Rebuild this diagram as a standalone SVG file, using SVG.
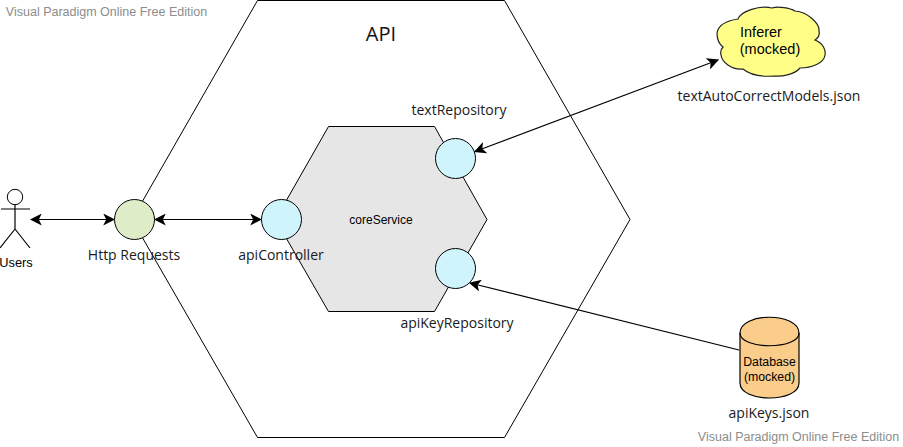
<svg xmlns="http://www.w3.org/2000/svg" width="903" height="447" viewBox="0 0 903 447">
<style>
text{font-family:"Liberation Sans",Arial,sans-serif;fill:#000;text-anchor:middle}
.s{font-family:"Open Sans","DejaVu Sans",sans-serif;font-size:14px;fill:#1a1a1a}
.w{font-size:12.5px;fill:#8c8c8c}
.c{fill:#cff4fb;stroke:#000;stroke-width:1}
.k{fill:none;stroke:#000;stroke-width:1.2}
.l{stroke:#000;stroke-width:1.2;fill:none;marker-start:url(#a);marker-end:url(#a)}
</style>
<defs><marker id="a" viewBox="0 0 10 10" refX="9" refY="5" markerWidth="12" markerHeight="12" markerUnits="userSpaceOnUse" orient="auto-start-reverse"><path d="M0 0L10 5L0 10L2.5 5Z" fill="#000"/></marker></defs>
<rect width="903" height="447" fill="#fff"/>
<g id="api"><path d="M257.500 0.500H504.500L630 219.500L504.500 437.500H257.500L132 219.500Z" fill="#fff" stroke="#000"/><text x="381" y="41" style="font-family:'Open Sans','DejaVu Sans',sans-serif;font-size:20px;fill:#111">API</text></g>
<g id="coreService"><path d="M328.500 126.500H434.500L487 219.500L434.500 311.500H328.500L275.500 219.500Z" fill="#e6e6e6" stroke="#000"/><text x="381" y="224" font-size="12">coreService</text></g>
<g id="connectors">
<path class="l" d="M31 219.500H114"/><path class="l" d="M155 219.500H261"/>
<path class="l" d="M475 151.500L718 60"/>
<path d="M739 350L470 283" class="k" marker-end="url(#a)"/>
</g>
<g id="users"><circle cx="15" cy="197" r="7.700" fill="#fff" stroke="#000"/><path d="M15 205V229M1 209H30M15 229L0 248M15 229L30 248" class="k"/><text x="16" y="267" font-size="12.800">Users</text></g>
<g id="httpRequests"><circle cx="134.500" cy="219.500" r="20" fill="#deedc8" stroke="#000"/><text x="134" y="260" class="s">Http Requests</text></g>
<g id="apiController"><circle class="c" cx="281.500" cy="219.500" r="20"/><text x="281" y="260" class="s">apiController</text></g>
<g id="textRepository"><circle class="c" cx="455.500" cy="158.500" r="20"/><text x="459" y="115" class="s">textRepository</text></g>
<g id="apiKeyRepository"><circle class="c" cx="455.500" cy="268.500" r="20"/><text x="457" y="328" class="s">apiKeyRepository</text></g>
<g id="inferer"><path d="M717 33C718 26 725 21 738 19C741 11 760 5 772 8C778 6 790 8 795 11C808 12 820 24 819 31C820 35 818 38 815 40C823 43 826 50 825 55C824 63 812 68 800 68C795 74 783 77 773 76C760 77 749 74 743 69C731 70 722 62 721 55C720 51 721 49 723 47C719 44 717 38 717 33Z" fill="#ffff88" stroke="#222" stroke-width="1.200"/><text x="761" y="37" font-size="14.500">Inferer</text><text x="770" y="54" font-size="14.500">(mocked)</text></g>
<text x="769" y="101" class="s">textAutoCorrectModels.json</text>
<g id="database"><path d="M740 333C740 312 799 312 799 333V383C799 403 740 403 740 383Z" fill="#fbcd8b" stroke="#000" stroke-width="1.200"/><path d="M740 333C740 350 799 350 799 333" class="k"/><text x="769.500" y="366" font-size="12.300">Database</text><text x="769.500" y="381" font-size="12.300">(mocked)</text></g>
<text x="769" y="418" class="s">apiKeys.json</text>
<text x="106.500" y="16" class="w">Visual Paradigm Online Free Edition</text>
<text x="798.500" y="441" class="w">Visual Paradigm Online Free Edition</text>
</svg>
